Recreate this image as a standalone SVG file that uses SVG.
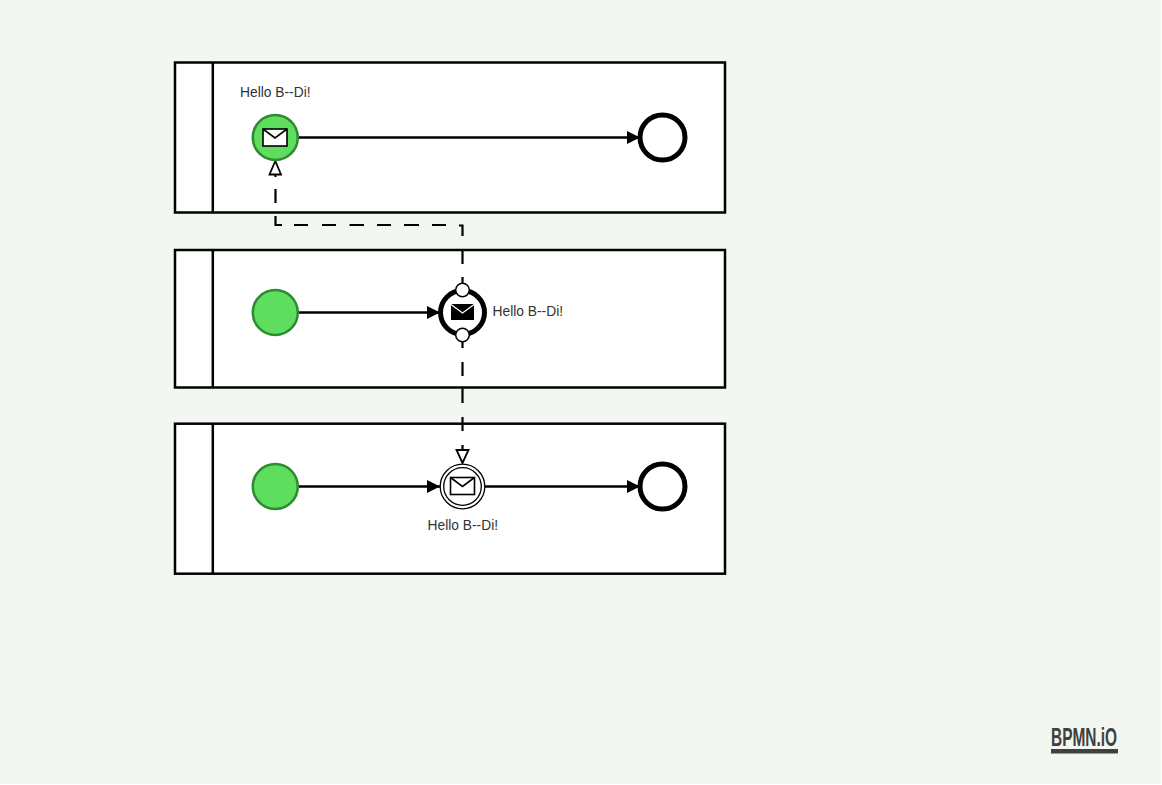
<svg xmlns="http://www.w3.org/2000/svg" width="1162" height="785" viewBox="0 0 1162 785">
<style>
.pool{fill:#fff;stroke:#000;stroke-width:2.5}
.lane{stroke:#000;stroke-width:2.5;fill:none}
.start{fill:#5fdd5f;stroke:#2e8b32;stroke-width:2.5}
.end{fill:#fff;stroke:#000;stroke-width:5}
.flow{fill:none;stroke:#000;stroke-width:2.5;marker-end:url(#arrow)}
.msg{fill:none;stroke:#000;stroke-width:2.200}
.lbl{font-family:"Liberation Sans",Arial,sans-serif;font-size:13.800px;fill:#333}
.env{fill:#fff;stroke:#000;stroke-width:1.600}
.envf{fill:none;stroke:#000;stroke-width:1.600}
</style>
<defs>
<marker id="arrow" markerUnits="userSpaceOnUse" markerWidth="14" markerHeight="14" refX="13" refY="7" orient="auto"><path d="M0,0.5L13,7L0,13.5Z" fill="#000"/></marker>
</defs>
<rect width="1162" height="785" fill="#fff"/>
<rect width="1161" height="784" fill="#f2f7f1"/>
<g id="pool-1"><rect class="pool" x="175" y="62.500" width="550" height="150"/><path class="lane" d="M212.800,62.500V212.500"/></g>
<g id="pool-2"><rect class="pool" x="175" y="250" width="550" height="137.500"/><path class="lane" d="M212.800,250V387.500"/></g>
<g id="pool-3"><rect class="pool" x="175" y="423.700" width="550" height="150"/><path class="lane" d="M212.800,423.700V573.700"/></g>
<g id="connectors">
<path class="flow" d="M298,137.500H640"/>
<path class="flow" d="M298,312.500H440"/>
<path class="flow" d="M298,486.500H440"/>
<path class="flow" d="M485,486.500H640"/>
<path class="msg" d="M275.500,174V177M275.500,189V203M275.500,216V225H282M294,225H308M322,225H336M349.500,225H364M377,225H391M404,225H419M432,225H446M459,225.500H462.500V236M462.500,250V264M462.500,277V284"/>
<path class="msg" d="M462.500,342V348M462.500,362V376M462.500,388.500V403M462.500,417V431M462.500,445V450"/>
<path d="M269.500,174.500H281L275.300,161Z" fill="#fff" stroke="#000" stroke-width="1.800"/>
<path d="M456.500,450H468.500L462.500,463Z" fill="#fff" stroke="#000" stroke-width="1.800"/>
</g>
<g id="start-1"><circle class="start" cx="275.300" cy="137.500" r="22.500"/><rect class="env" x="263" y="129" width="24" height="17"/><path d="M263,129L275,138L287,129" class="envf"/><text class="lbl" x="240" y="96.500">Hello B--Di!</text></g>
<g id="end-1"><circle class="end" cx="662.500" cy="137.500" r="22.500"/></g>
<g id="start-2"><circle class="start" cx="275.300" cy="312.500" r="22.500"/></g>
<g id="intermediate-throw"><circle cx="462.500" cy="312.500" r="22" fill="#fff" stroke="#000" stroke-width="5"/>
<rect x="451" y="304" width="23" height="16" fill="#000"/><path d="M451,304.500L462.500,313L474,304.500" fill="none" stroke="#fff" stroke-width="1.300"/>
<circle cx="462.500" cy="290" r="6.800" fill="#fff" stroke="#000" stroke-width="1.500"/><circle cx="462.500" cy="335" r="6.800" fill="#fff" stroke="#000" stroke-width="1.500"/>
<text class="lbl" x="492.500" y="316">Hello B--Di!</text></g>
<g id="start-3"><circle class="start" cx="275.300" cy="486.500" r="22.500"/></g>
<g id="intermediate-catch"><circle cx="462.500" cy="486.500" r="22.300" fill="#fff" stroke="#000" stroke-width="1.300"/><circle cx="462.500" cy="486.500" r="18.800" fill="#fff" stroke="#000" stroke-width="1.300"/>
<rect class="env" x="450.500" y="477.500" width="24" height="17"/><path d="M450.500,477.500L462.500,486.500L474.500,477.500" class="envf"/>
<text class="lbl" x="427.500" y="530">Hello B--Di!</text></g>
<g id="end-3"><circle class="end" cx="662.500" cy="486.500" r="22.500"/></g>
<g id="logo"><text x="1051" y="745.500" font-family="'Liberation Sans Narrow','Liberation Sans',Arial,sans-serif" font-size="26" font-weight="700" fill="#404040" textLength="66" lengthAdjust="spacingAndGlyphs">BPMN.iO</text><rect x="1051" y="749" width="67" height="4.500" fill="#404040"/></g>
</svg>
